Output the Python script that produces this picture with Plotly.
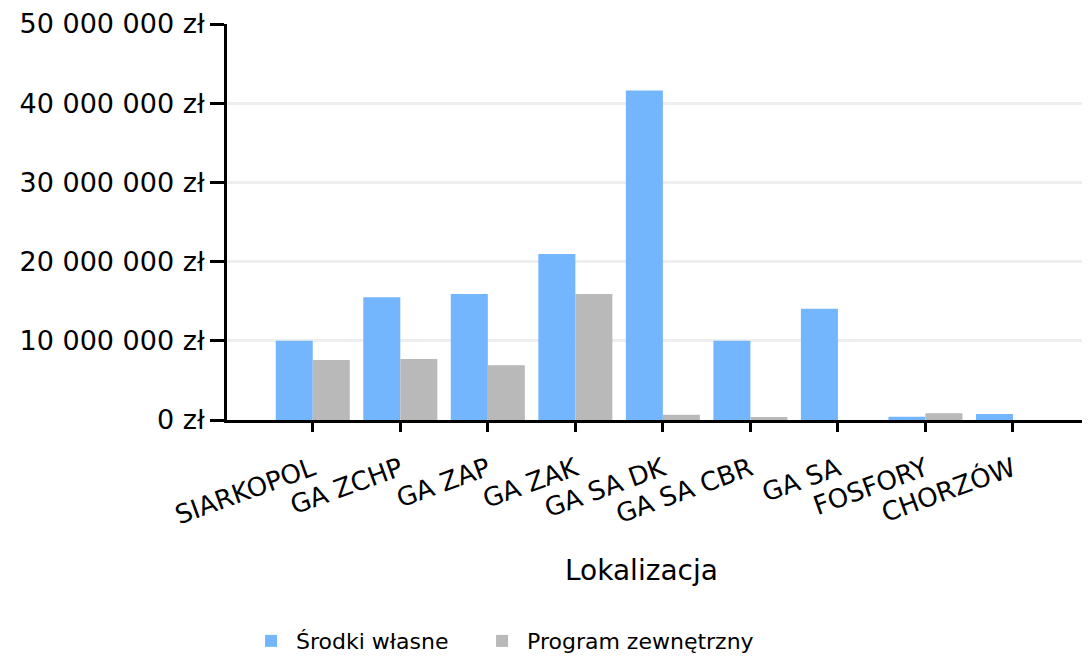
import plotly.graph_objects as go

categories = ["SIARKOPOL", "GA ZCHP", "GA ZAP", "GA ZAK", "GA SA DK", "GA SA CBR", "GA SA", "FOSFORY", "CHORZÓW"]
srodki_wlasne = [10000000, 15500000, 15900000, 20950000, 41600000, 10000000, 14050000, 400000, 750000]
program_zewnetrzny = [7580000, 7700000, 6900000, 15900000, 670000, 380000, 0, 850000, 0]
y_ticks = [0, 10000000, 20000000, 30000000, 40000000, 50000000]
y_tick_labels = ["0 zł", "10 000 000 zł", "20 000 000 zł", "30 000 000 zł", "40 000 000 zł", "50 000 000 zł"]

FONT = "DejaVu Sans"

fig = go.Figure()
fig.add_trace(go.Bar(x=categories, y=srodki_wlasne, name="Środki własne", legend="legend",
                     marker=dict(color="#74b6fd", line=dict(width=0))))
fig.add_trace(go.Bar(x=categories, y=program_zewnetrzny, name="Program zewnętrzny", legend="legend2",
                     marker=dict(color="#b9b9b9", line=dict(width=0))))

legend_common = dict(orientation="h", xanchor="left", xref="container",
                     y=0.026, yanchor="middle", yref="container",
                     itemwidth=40, font=dict(family=FONT, size=22, color="black"))

fig.update_layout(
    width=1082, height=650,
    margin=dict(l=219, r=0, t=16, b=238, autoexpand=False),
    paper_bgcolor="white", plot_bgcolor="white",
    barmode="group", bargap=0.154, bargroupgap=0,
    font=dict(family=FONT, color="black", size=22),
    showlegend=True,
    legend=dict(x=0.22, **legend_common),
    legend2=dict(x=0.4335, **legend_common),
    annotations=[dict(text="Lokalizacja", xref="paper", yref="paper",
                      x=0.48, y=-0.379, xanchor="center", yanchor="middle",
                      showarrow=False, font=dict(family=FONT, size=28, color="black"))],
)
fig.update_xaxes(
    range=[-0.98, 8.88],
    showline=True, linecolor="black", linewidth=3,
    ticks="outside", ticklen=9, tickwidth=3, tickcolor="black",
    tickangle=-20, tickfont=dict(family=FONT, size=26), ticklabelstandoff=12,
    showgrid=False,
)
fig.update_yaxes(
    range=[0, 50000000],
    tickvals=y_ticks, ticktext=y_tick_labels,
    showline=True, linecolor="black", linewidth=3,
    ticks="outside", ticklen=14, tickwidth=3, tickcolor="black",
    tickfont=dict(family=FONT, size=27),
    showgrid=True, gridcolor="#eeeeee", gridwidth=3,
    zeroline=False,
)

fig.write_html("out.html")
